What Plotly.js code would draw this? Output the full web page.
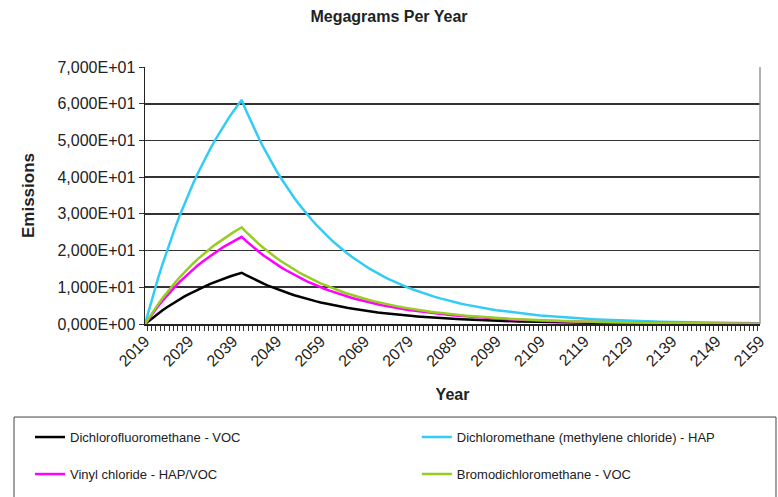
<!DOCTYPE html>
<html>
<head>
<meta charset="utf-8">
<script src="https://cdn.plot.ly/plotly-3.0.1.min.js"></script>
<style>
  html, body { margin: 0; padding: 0; background: #fff; }
  #chart { width: 778px; height: 497px; }
</style>
</head>
<body>
<div id="chart"></div>
<script>
// Annual emissions (Mg/yr) per compound, one value per year from 2019 to 2159
const firstYear = 2019;
const lastYear = 2159;
const years = [];
for (let y = firstYear; y <= lastYear; y++) years.push(String(y));

const dichlorofluoromethane = [
  0, 1.00, 1.96, 2.87, 3.74, 4.57, 5.36, 6.11, 6.83, 7.51, 8.16, 8.78, 9.37, 9.94, 10.47, 10.99, 11.48, 11.94, 12.38, 12.81, 13.21, 13.59, 13.96,
  13.31, 12.68, 12.09, 11.52, 10.98, 10.47, 9.98, 9.51, 9.06, 8.64, 8.23, 7.85, 7.48, 7.13, 6.79, 6.48, 6.17, 5.88,
  5.61, 5.34, 5.10, 4.86, 4.63, 4.41, 4.21, 4.01, 3.82, 3.64, 3.47, 3.31, 3.15, 3.01, 2.86, 2.73, 2.60, 2.48, 2.36, 2.25,
  2.15, 2.05, 1.95, 1.86, 1.77, 1.69, 1.61, 1.53, 1.46, 1.40, 1.33, 1.27, 1.21, 1.15, 1.10, 1.05, 1.00, 0.95, 0.91, 0.86,
  0.82, 0.78, 0.75, 0.71, 0.68, 0.65, 0.62, 0.59, 0.56, 0.53, 0.51, 0.48, 0.46, 0.44, 0.42, 0.40, 0.38, 0.36, 0.35, 0.33,
  0.32, 0.30, 0.29, 0.27, 0.26, 0.25, 0.24, 0.22, 0.21, 0.20, 0.19, 0.19, 0.18, 0.17, 0.16, 0.15, 0.15, 0.14, 0.13, 0.13,
  0.12, 0.11, 0.11, 0.11, 0.10, 0.10, 0.09, 0.09, 0.08, 0.08, 0.08, 0.07, 0.07, 0.06, 0.06, 0.06, 0.06, 0.05, 0.05, 0.05
];

const dichloromethane = [
  0, 4.39, 8.57, 12.55, 16.35, 19.97, 23.42, 26.71, 29.85, 32.83, 35.68, 38.40, 40.98, 43.45, 45.80, 48.04, 50.18, 52.21, 54.15, 56.00, 57.76, 59.44, 61.04,
  58.18, 55.45, 52.85, 50.38, 48.02, 45.77, 43.62, 41.58, 39.63, 37.77, 36.00, 34.31, 32.71, 31.17, 29.71, 28.32, 26.99, 25.73,
  24.52, 23.37, 22.28, 21.23, 20.24, 19.29, 18.39, 17.52, 16.70, 15.92, 15.17, 14.46, 13.78, 13.14, 12.52, 11.94, 11.38, 10.84, 10.34, 9.85,
  9.39, 8.95, 8.53, 8.13, 7.75, 7.39, 7.04, 6.71, 6.40, 6.10, 5.81, 5.54, 5.28, 5.03, 4.80, 4.57, 4.36, 4.15, 3.96, 3.77,
  3.60, 3.43, 3.27, 3.11, 2.97, 2.83, 2.70, 2.57, 2.45, 2.33, 2.23, 2.12, 2.02, 1.93, 1.84, 1.75, 1.67, 1.59, 1.52, 1.44,
  1.38, 1.31, 1.25, 1.19, 1.14, 1.08, 1.03, 0.98, 0.94, 0.89, 0.85, 0.81, 0.77, 0.74, 0.70, 0.67, 0.64, 0.61, 0.58, 0.55,
  0.53, 0.50, 0.48, 0.46, 0.44, 0.42, 0.40, 0.38, 0.36, 0.34, 0.33, 0.31, 0.30, 0.28, 0.27, 0.26, 0.25, 0.23, 0.22, 0.21
];

const vinylChloride = [
  0, 1.71, 3.33, 4.88, 6.36, 7.77, 9.11, 10.39, 11.61, 12.77, 13.88, 14.94, 15.95, 16.91, 17.82, 18.69, 19.53, 20.31, 21.07, 21.79, 22.47, 23.13, 23.75,
  22.64, 21.58, 20.56, 19.60, 18.68, 17.81, 16.97, 16.18, 15.42, 14.70, 14.01, 13.35, 12.73, 12.13, 11.56, 11.02, 10.50, 10.01,
  9.54, 9.09, 8.67, 8.26, 7.88, 7.51, 7.16, 6.82, 6.50, 6.19, 5.90, 5.63, 5.36, 5.11, 4.87, 4.65, 4.43, 4.22, 4.02, 3.83,
  3.65, 3.48, 3.32, 3.16, 3.02, 2.88, 2.74, 2.61, 2.49, 2.37, 2.26, 2.16, 2.05, 1.96, 1.87, 1.78, 1.70, 1.61, 1.54, 1.47,
  1.40, 1.33, 1.27, 1.21, 1.16, 1.10, 1.05, 1.00, 0.95, 0.91, 0.87, 0.82, 0.79, 0.75, 0.72, 0.68, 0.65, 0.62, 0.59, 0.56,
  0.54, 0.51, 0.49, 0.46, 0.44, 0.42, 0.40, 0.38, 0.37, 0.35, 0.33, 0.32, 0.30, 0.29, 0.27, 0.26, 0.25, 0.24, 0.23, 0.21,
  0.21, 0.19, 0.19, 0.18, 0.17, 0.16, 0.16, 0.15, 0.14, 0.13, 0.13, 0.12, 0.12, 0.11, 0.11, 0.10, 0.10, 0.09, 0.09, 0.08
];

const bromodichloromethane = [
  0, 1.89, 3.69, 5.41, 7.05, 8.61, 10.09, 11.51, 12.86, 14.15, 15.37, 16.55, 17.66, 18.72, 19.74, 20.70, 21.62, 22.50, 23.33, 24.13, 24.89, 25.61, 26.30,
  25.07, 23.89, 22.77, 21.71, 20.69, 19.72, 18.80, 17.92, 17.08, 16.28, 15.51, 14.78, 14.09, 13.43, 12.80, 12.20, 11.63, 11.09,
  10.57, 10.07, 9.60, 9.15, 8.72, 8.31, 7.92, 7.55, 7.20, 6.86, 6.54, 6.23, 5.94, 5.66, 5.39, 5.14, 4.90, 4.67, 4.46, 4.24,
  4.05, 3.86, 3.68, 3.50, 3.34, 3.18, 3.03, 2.89, 2.76, 2.63, 2.50, 2.39, 2.28, 2.17, 2.07, 1.97, 1.88, 1.79, 1.71, 1.62,
  1.55, 1.48, 1.41, 1.34, 1.28, 1.22, 1.16, 1.11, 1.06, 1.00, 0.96, 0.91, 0.87, 0.83, 0.79, 0.75, 0.72, 0.69, 0.65, 0.62,
  0.59, 0.56, 0.54, 0.51, 0.49, 0.47, 0.44, 0.42, 0.41, 0.38, 0.37, 0.35, 0.33, 0.32, 0.30, 0.29, 0.28, 0.26, 0.25, 0.24,
  0.23, 0.22, 0.21, 0.20, 0.19, 0.18, 0.17, 0.16, 0.16, 0.15, 0.14, 0.13, 0.13, 0.12, 0.12, 0.11, 0.11, 0.10, 0.09, 0.09
];

const seriesNames = [
  'Dichlorofluoromethane - VOC',
  'Dichloromethane (methylene chloride) - HAP',
  'Vinyl chloride - HAP/VOC',
  'Bromodichloromethane - VOC'
];
const seriesColors = ['#000000', '#33CCF5', '#FF00FF', '#99CC22'];

// Y axis ticks with their scientific-notation labels (comma decimal)
const yTickValues = [0, 10, 20, 30, 40, 50, 60, 70];
const yTickLabels = ['0,000E+00', '1,000E+01', '2,000E+01', '3,000E+01', '4,000E+01', '5,000E+01', '6,000E+01', '7,000E+01'];

// X axis: a tick mark for every year, a label every tenth year
const xLabelStep = 10;
const xTickLabels = years.map((y, i) => (i % xLabelStep === 0 ? y : ''));

const seriesValues = [dichlorofluoromethane, dichloromethane, vinylChloride, bromodichloromethane];
// each series gets its own legend so the entries sit in a 2 x 2 grid
const legendIds = ['legend', 'legend2', 'legend3', 'legend4'];

const traces = seriesValues.map((vals, i) => ({
  type: 'scatter',
  mode: 'lines',
  x: years,
  y: vals,
  name: seriesNames[i],
  line: { color: seriesColors[i], width: 2.5 },
  legend: legendIds[i],
  hoverinfo: 'x+y+name'
}));

const font = 'Liberation Sans, Arial, sans-serif';

const legendStyle = {
  orientation: 'h',
  xanchor: 'left',
  yanchor: 'middle',
  bgcolor: 'rgba(0,0,0,0)',
  borderwidth: 0,
  font: { family: font, size: 13, color: '#222' }
};

const layout = {
  width: 778,
  height: 497,
  margin: { l: 145, r: 18, t: 67, b: 173, autoexpand: false },
  paper_bgcolor: '#ffffff',
  plot_bgcolor: '#ffffff',
  font: { family: font, color: '#222' },
  title: {
    text: '<b>Megagrams Per Year</b>',
    font: { family: font, size: 16, color: '#222' },
    x: 0.5,
    xanchor: 'center',
    y: 0.966,
    yanchor: 'middle'
  },
  xaxis: {
    type: 'category',
    tickmode: 'array',
    tickvals: years,
    ticktext: xTickLabels,
    tickson: 'boundaries',
    ticks: 'outside',
    ticklen: 5,
    tickwidth: 1,
    tickcolor: '#333',
    tickangle: -45,
    tickfont: { family: font, size: 16, color: '#222' },
    showgrid: false,
    showline: true,
    linecolor: '#222',
    linewidth: 1.5,
    zeroline: false,
    title: {
      text: '<b>Year</b>',
      font: { family: font, size: 16, color: '#222' },
      standoff: 20
    }
  },
  yaxis: {
    range: [0, 70],
    tickmode: 'array',
    tickvals: yTickValues,
    ticktext: yTickLabels,
    ticks: 'outside',
    ticklen: 5,
    tickcolor: '#333',
    tickfont: { family: font, size: 16, color: '#222' },
    showgrid: true,
    gridcolor: '#333',
    gridwidth: 1.6,
    showline: true,
    linecolor: '#222',
    linewidth: 1.5,
    zeroline: false,
    title: {
      text: '<b>Emissions</b>',
      font: { family: font, size: 17, color: '#222' },
      standoff: 18
    }
  },
  legend:  Object.assign({}, legendStyle, { x: -0.187, y: -0.440 }),
  legend2: Object.assign({}, legendStyle, { x: 0.442, y: -0.440 }),
  legend3: Object.assign({}, legendStyle, { x: -0.187, y: -0.584 }),
  legend4: Object.assign({}, legendStyle, { x: 0.442, y: -0.584 }),
  shapes: [
    // plot area frame on the right
    { type: 'line', xref: 'paper', yref: 'paper', x0: 1, x1: 1, y0: 0, y1: 1,
      line: { color: '#9a9a9a', width: 1.5 } },
    // box around the legend
    { type: 'rect', xref: 'paper', yref: 'paper', x0: -0.213, x1: 1.026, y0: -0.362, y1: -0.69,
      line: { color: '#444', width: 1 }, fillcolor: 'rgba(0,0,0,0)' }
  ],
  showlegend: true
};

Plotly.newPlot('chart', traces, layout, { displayModeBar: false, staticPlot: true });
</script>
</body>
</html>
